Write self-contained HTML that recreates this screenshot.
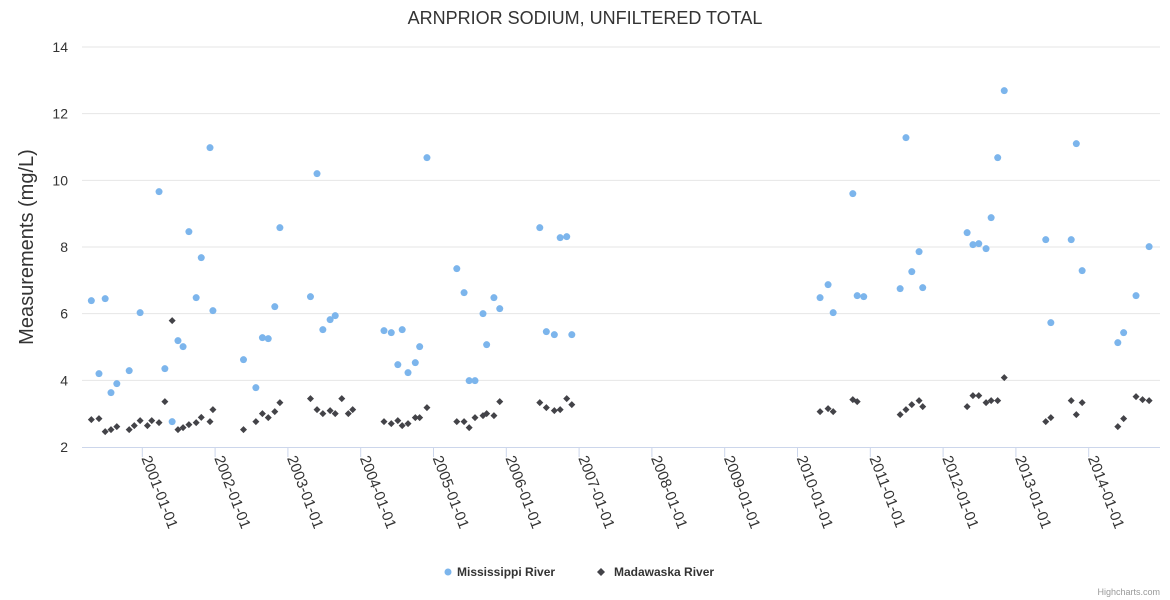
<!DOCTYPE html>
<html><head><meta charset="utf-8"><style>
html,body{margin:0;padding:0;background:#fff;}
svg{display:block;font-family:"Liberation Sans",sans-serif;}
</style></head><body>
<svg id="chart" width="1170" height="600">
<rect width="1170" height="600" fill="#fff"/>
<text x="585" y="24" text-anchor="middle" font-size="18" fill="#333">ARNPRIOR SODIUM, UNFILTERED TOTAL</text>
<text transform="translate(33,247) rotate(-90)" text-anchor="middle" font-size="20" fill="#333">Measurements (mg/L)</text>
<g id="grid"></g><g id="xaxis"></g><g id="series"></g>
<g>
<g><circle cx="448" cy="572" r="3.5" fill="#7cb5ec"/><text x="457" y="576" font-size="12" font-weight="bold" fill="#333">Mississippi River</text></g>
<g><path d="M601,568 L605,572 L601,576 L597,572 Z" fill="#434348"/><text x="614" y="576" font-size="12" font-weight="bold" fill="#333">Madawaska River</text></g>
</g>
<text x="1160" y="595" text-anchor="end" font-size="9" fill="#999">Highcharts.com</text>
</svg>
<script>
const yTicks=[2,4,6,8,10,12,14];
const xTickYears=[2001,2002,2003,2004,2005,2006,2007,2008,2009,2010,2011,2012,2013,2014];
const missDates=[2000.30,2000.405,2000.49,2000.57,2000.65,2000.82,2000.97,2001.23,2001.31,2001.41,2001.49,2001.56,2001.64,2001.74,2001.81,2001.93,2001.97,2002.39,2002.56,2002.65,2002.73,2002.82,2002.89,2003.31,2003.40,2003.48,2003.58,2003.65,2004.32,2004.42,2004.51,2004.57,2004.65,2004.75,2004.81,2004.91,2005.32,2005.42,2005.49,2005.57,2005.68,2005.73,2005.83,2005.91,2006.46,2006.55,2006.66,2006.74,2006.83,2006.90,2010.31,2010.42,2010.49,2010.76,2010.82,2010.91,2011.41,2011.49,2011.57,2011.67,2011.72,2012.33,2012.41,2012.49,2012.59,2012.66,2012.75,2012.84,2013.41,2013.48,2013.76,2013.83,2013.91,2014.40,2014.48,2014.65,2014.83];
const missValues=[6.39,4.20,6.45,3.63,3.90,4.29,6.03,9.66,4.35,2.76,5.19,5.01,8.46,6.48,7.68,10.98,6.09,4.62,3.78,5.28,5.25,6.21,8.58,6.51,10.20,5.52,5.82,5.94,5.49,5.43,4.47,5.52,4.23,4.53,5.01,10.68,7.35,6.63,3.99,3.99,6.00,5.07,6.48,6.15,8.58,5.46,5.37,8.28,8.31,5.37,6.48,6.87,6.03,9.60,6.54,6.51,6.75,11.28,7.26,7.86,6.78,8.43,8.07,8.10,7.95,8.88,10.68,12.69,8.22,5.73,8.22,11.10,7.29,5.13,5.43,6.54,8.01];
const madaDates=[2000.30,2000.405,2000.49,2000.57,2000.65,2000.82,2000.89,2000.97,2001.07,2001.13,2001.23,2001.31,2001.41,2001.49,2001.56,2001.64,2001.74,2001.81,2001.93,2001.97,2002.39,2002.56,2002.65,2002.73,2002.82,2002.89,2003.31,2003.40,2003.48,2003.58,2003.65,2003.74,2003.83,2003.89,2004.32,2004.42,2004.51,2004.57,2004.65,2004.75,2004.81,2004.91,2005.32,2005.42,2005.49,2005.57,2005.68,2005.73,2005.83,2005.91,2006.46,2006.55,2006.66,2006.74,2006.83,2006.90,2010.31,2010.42,2010.49,2010.76,2010.82,2011.41,2011.49,2011.57,2011.67,2011.72,2012.33,2012.41,2012.49,2012.59,2012.66,2012.75,2012.84,2013.41,2013.48,2013.76,2013.83,2013.91,2014.40,2014.48,2014.65,2014.74,2014.83];
const madaValues=[2.82,2.85,2.46,2.52,2.61,2.52,2.64,2.79,2.64,2.79,2.73,3.36,5.79,2.52,2.58,2.67,2.73,2.89,2.76,3.12,2.52,2.76,3.00,2.88,3.06,3.33,3.45,3.12,3.00,3.09,3.00,3.45,3.00,3.12,2.76,2.70,2.79,2.64,2.70,2.88,2.88,3.18,2.76,2.76,2.58,2.88,2.94,3.00,2.94,3.36,3.33,3.18,3.09,3.12,3.45,3.27,3.06,3.15,3.06,3.42,3.36,2.97,3.12,3.27,3.39,3.21,3.21,3.54,3.54,3.33,3.39,3.39,4.08,2.76,2.88,3.39,2.97,3.33,2.61,2.85,3.51,3.42,3.39];

const NS='http://www.w3.org/2000/svg';
const L=82,R=1160,T=47,B=447;
function xScale(y){return 142.3+(y-2001)*72.8;}
function yScale(v){return B-(v-2)*(B-T)/12;}
function mk(tag,attrs,parent){const e=document.createElementNS(NS,tag);for(const k in attrs)e.setAttribute(k,attrs[k]);parent.appendChild(e);return e;}
const grid=document.getElementById('grid'),xa=document.getElementById('xaxis'),ser=document.getElementById('series');
yTicks.forEach(t=>{
  const y=yScale(t);
  if(t>2){const g=mk('line',{x1:L,x2:R,y1:y,y2:y,stroke:'#e6e6e6','stroke-width':1},grid);
  
  }
  const tx=mk('text',{x:68,y:y+5,'text-anchor':'end','font-size':14,fill:'#333'},grid);
  tx.textContent=t;
  
  
});
const ax=mk('line',{x1:L,x2:R,y1:B+0.5,y2:B+0.5,stroke:'#ccd6eb','stroke-width':1},xa);


xTickYears.forEach(yr=>{
  const x=xScale(yr);
  const tk=mk('line',{x1:x,x2:x,y1:B,y2:B+10,stroke:'#ccd6eb'},xa);
  
  
  const tx=mk('text',{x:0,y:0,transform:'translate('+(x-1)+','+(B+11)+') rotate(69)','font-size':15,fill:'#333'},xa);
  tx.textContent=yr+'-01-01';
  
  
});
missDates.forEach((d,i)=>{
  const c=mk('circle',{cx:xScale(d),cy:yScale(missValues[i]),r:3.5,fill:'#7cb5ec'},ser);
  
  
});
madaDates.forEach((d,i)=>{
  const x=xScale(d),y=yScale(madaValues[i]);
  const p=mk('path',{d:'M'+x+','+(y-3.5)+' L'+(x+3.5)+','+y+' L'+x+','+(y+3.5)+' L'+(x-3.5)+','+y+' Z',fill:'#434348'},ser);
  
  
});
</script>
</body></html>
